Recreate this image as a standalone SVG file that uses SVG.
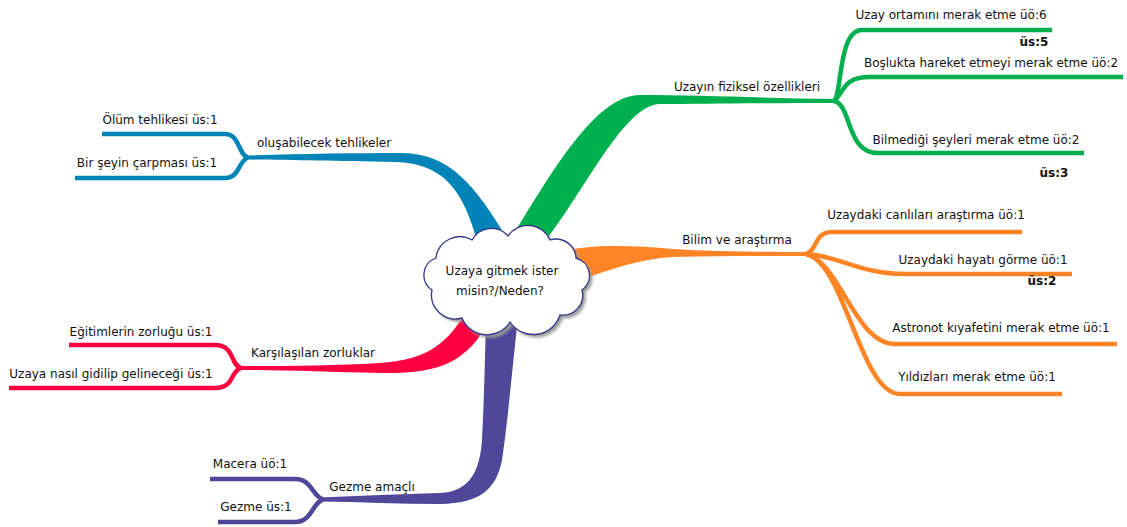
<svg xmlns="http://www.w3.org/2000/svg" width="1127" height="527" viewBox="0 0 1127 527">
  <defs>
    <filter id="soft" x="-10%" y="-10%" width="120%" height="130%">
      <feGaussianBlur stdDeviation="1.5"/>
    </filter>
    <path id="cloud-shape" d="M 432 290 A 18 18 0 0 1 436 258 A 24 24 0 0 1 472 240 A 22 22 0 0 1 508 236 A 24 24 0 0 1 550 240 A 20 20 0 0 1 576 258 A 18 18 0 0 1 582 290 A 20 20 0 0 1 560 315 A 28 28 0 0 1 510 322 A 27 27 0 0 1 462 318 A 24 24 0 0 1 432 290 Z"/>
  </defs>
  <style>
    text { font-family: "DejaVu Sans", "Liberation Sans", sans-serif; font-size: 12px; fill: #111; text-anchor: middle; }
    .count { font-weight: bold; }
    .br { fill: none; stroke-width: 4.5; stroke-linecap: butt; }
    .green { stroke: #00b04f; }
    .orange { stroke: #ff8425; }
    .blue { stroke: #0284b8; }
    .red { stroke: #ff0040; }
    .purple { stroke: #50469a; }
  </style>
  <rect width="1127" height="527" fill="#ffffff"/>

  <g id="connectors">
    <!-- tapered trunks leaving the central cloud -->
    <path id="trunk-green" fill="#00b04f" d="M 510 240 C 550 175 595 95 640 95 C 700 95 760 98 838 99 L 838 103 C 760 103 700 104 660 104 C 625 104 585 190 546 240 Z"/>
    <path id="trunk-orange" fill="#ff8425" d="M 558 252 C 590 244 630 245 673 249 C 720 252 770 252 810 252 L 810 256 C 770 256 720 256 673 257 C 640 259 615 268 586 278 Z"/>
    <path id="trunk-blue" fill="#0284b8" d="M 245 155.5 C 300 154 350 153 400 153 C 450 153 475 185 508 240 L 477 240 C 465 200 450 163 395 162 C 330 161 290 160 245 159.5 Z"/>
    <path id="trunk-red" fill="#ff0040" d="M 462 318 C 445 345 425 360 380 363 C 330 366 280 366 238 366 L 238 370 C 280 370 330 372 380 373 C 435 374 468 365 490 318 Z"/>
    <path id="trunk-purple" fill="#50469a" d="M 320 497.5 C 360 496 400 494 440 493 C 470 492 480 470 482 440 C 484 400 485 360 486 318 L 518 318 C 512 370 508 420 502 460 C 496 490 480 503 440 504 C 400 504 360 502 320 501.5 Z"/>

    <!-- green sub-branches -->
    <path class="br green" d="M 834 101 C 842 95 838 30 862 30 L 1052 30"/>
    <path class="br green" d="M 834 101 C 845 92 842 77 870 77 L 1123 77"/>
    <path class="br green" d="M 834 101 C 852 105 846 153 878 153 L 1084 153"/>

    <!-- orange sub-branches -->
    <path class="br orange" d="M 806 254 C 818 250 814 232 832 232 L 1022 232"/>
    <path class="br orange" d="M 806 254 C 840 256 860 274 905 274 L 1072 274" stroke-width="5.5"/>
    <path class="br orange" d="M 806 254 C 840 262 855 344 895 344 L 1117 344"/>
    <path class="br orange" d="M 806 254 C 845 262 860 394 900 394 L 1062 394"/>

    <!-- blue sub-branches -->
    <path class="br blue" d="M 248 157.5 C 238 155 240 134 225 134 L 102 134"/>
    <path class="br blue" d="M 248 157.5 C 238 161 240 178 225 178 L 75 178"/>

    <!-- red sub-branches -->
    <path class="br red" d="M 241 368 C 230 365 235 345 215 345 L 69 345"/>
    <path class="br red" d="M 241 368 C 230 371 235 388 215 388 L 9 388"/>

    <!-- purple sub-branches -->
    <path class="br purple" d="M 323 499.5 C 312 496 312 479 295 479 L 210 479"/>
    <path class="br purple" d="M 323 499.5 C 312 503 312 522 295 522 L 218 522"/>
  </g>

  <g id="node-center">
    <use href="#cloud-shape" transform="translate(3 3)" fill="#9a9a9a" filter="url(#soft)"/>
    <use href="#cloud-shape" fill="#ffffff" stroke="#34348a" stroke-width="1.3"/>
    <text x="502" y="275">Uzaya gitmek ister</text>
    <text x="500" y="295">misin?/Neden?</text>
  </g>

  <g id="node-fiziksel">
    <text x="747" y="91">Uzayın fiziksel özellikleri</text>
  </g>
  <g id="node-ortam">
    <text x="951" y="19">Uzay ortamını merak etme üö:6</text>
    <text class="count" x="1034" y="46">üs:5</text>
  </g>
  <g id="node-bosluk">
    <text x="991" y="67">Boşlukta hareket etmeyi merak etme üö:2</text>
  </g>
  <g id="node-bilmedigi">
    <text x="976" y="144">Bilmediği şeyleri merak etme üö:2</text>
    <text class="count" x="1054" y="177">üs:3</text>
  </g>

  <g id="node-bilim">
    <text x="737" y="244">Bilim ve araştırma</text>
  </g>
  <g id="node-canlilar">
    <text x="926" y="219">Uzaydaki canlıları araştırma üö:1</text>
  </g>
  <g id="node-hayat">
    <text x="983" y="264">Uzaydaki hayatı görme üö:1</text>
    <text class="count" x="1042" y="285">üs:2</text>
  </g>
  <g id="node-astronot">
    <text x="1001" y="332">Astronot kıyafetini merak etme üö:1</text>
  </g>
  <g id="node-yildiz">
    <text x="977" y="381">Yıldızları merak etme üö:1</text>
  </g>

  <g id="node-tehlikeler">
    <text x="324" y="147">oluşabilecek tehlikeler</text>
  </g>
  <g id="node-olum">
    <text x="160" y="124">Ölüm tehlikesi üs:1</text>
  </g>
  <g id="node-carpma">
    <text x="147" y="167">Bir şeyin çarpması üs:1</text>
  </g>

  <g id="node-zorluklar">
    <text x="313" y="357">Karşılaşılan zorluklar</text>
  </g>
  <g id="node-egitim">
    <text x="141" y="336">Eğitimlerin zorluğu üs:1</text>
  </g>
  <g id="node-gidis">
    <text x="111" y="378">Uzaya nasıl gidilip gelineceği üs:1</text>
  </g>

  <g id="node-gezme-amacli">
    <text x="372" y="491">Gezme amaçlı</text>
  </g>
  <g id="node-macera">
    <text x="250" y="468">Macera üö:1</text>
  </g>
  <g id="node-gezme">
    <text x="256" y="511">Gezme üs:1</text>
  </g>
</svg>
